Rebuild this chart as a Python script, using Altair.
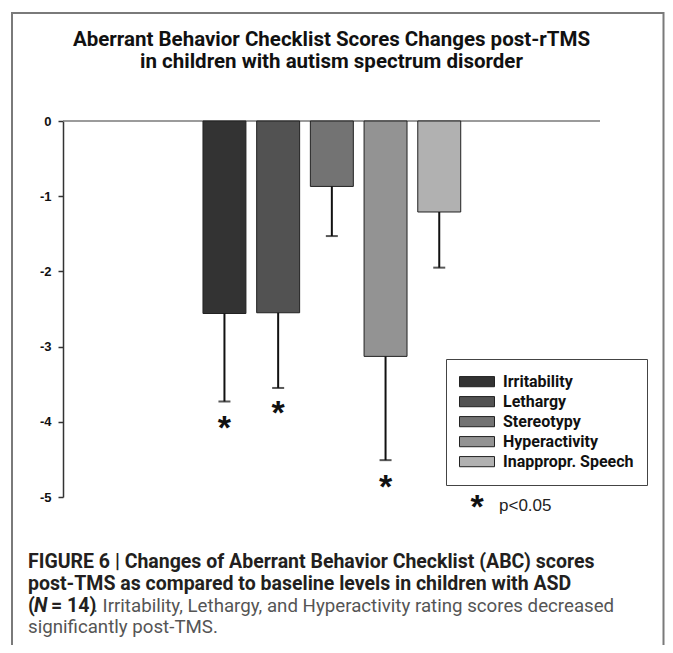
import altair as alt
import pandas as pd

categories = ["Irritability", "Lethargy", "Stereotypy", "Hyperactivity", "Inappropr. Speech"]
means = [-2.56, -2.55, -0.87, -3.13, -1.21]
err_ends = [-3.73, -3.55, -1.53, -4.51, -1.95]
colors = ["#333333", "#525252", "#737373", "#939393", "#b1b1b1"]
sig_categories = ["Irritability", "Lethargy", "Hyperactivity"]
sig_star_pos = [-4.06, -3.85, -4.84]
y_ticks = [0, -1, -2, -3, -4, -5]

title_lines = ["Aberrant Behavior Checklist Scores Changes post-rTMS",
               "in children with autism spectrum disorder"]
caption_bold = ["FIGURE 6 | Changes of Aberrant Behavior Checklist (ABC) scores",
                "post-TMS as compared to baseline levels in children with ASD"]
caption_rest = [". Irritability, Lethargy, and Hyperactivity rating scores decreased",
                "significantly post-TMS."]

COND = "Roboto, Liberation Sans, sans-serif"
SANS = "Liberation Sans, Arial, sans-serif"

W, H = 537, 376

df = pd.DataFrame({"cat": categories, "mean": means, "err": err_ends})
stars = pd.DataFrame({"cat": sig_categories, "pos": sig_star_pos})

xscale = alt.Scale(domain=categories, range=[134.6, 403.1], paddingInner=0.2, paddingOuter=0.1)
xenc = alt.X("cat:N", sort=categories, scale=xscale, axis=None)
yscale = alt.Scale(domain=[-5, 0], nice=False)

zero_line = alt.Chart(pd.DataFrame({"z": [0]})).mark_rule(color="#7a7a7a", strokeWidth=1.5).encode(
    y=alt.Y("z:Q", scale=yscale), x=alt.value(0), x2=alt.value(W))

bars = alt.Chart(df).mark_bar(stroke="#222222", strokeWidth=1).encode(
    x=xenc,
    y=alt.Y("mean:Q", scale=yscale,
            axis=alt.Axis(values=y_ticks, title=None, grid=False, tickSize=5,
                          labelPadding=7, labelFont=SANS, labelFontSize=13,
                          labelFontWeight="bold", labelColor="#111111",
                          domainColor="#333333", tickColor="#333333",
                          domainWidth=1.5, tickWidth=1.5,
                          labelExpr="'' + datum.value")),
    y2=alt.datum(0),
    fill=alt.Fill("cat:N", sort=categories,
                  scale=alt.Scale(domain=categories, range=colors),
                  legend=alt.Legend(
                      title=None, orient="none", legendX=383, legendY=238,
                      symbolType="M-1,-0.29L1,-0.29L1,0.29L-1,0.29Z",
                      symbolSize=1225, symbolStrokeColor="#222222",
                      symbolStrokeWidth=1, labelFont=COND, labelFontSize=16,
                      labelFontWeight="bold", labelColor="#111111",
                      labelOffset=8, clipHeight=19.3, rowPadding=0, padding=13,
                      strokeColor="#444444")),
)

err_rule = alt.Chart(df).mark_rule(color="#111111", strokeWidth=2).encode(
    x=alt.X("cat:N", sort=categories), y="mean:Q", y2="err:Q")
err_cap = alt.Chart(df).mark_tick(color="#111111", size=12, thickness=2).encode(
    x=alt.X("cat:N", sort=categories), y="err:Q")

star_marks = alt.Chart(stars).mark_text(
    text="*", font=SANS, fontSize=34, fontWeight="bold", color="#111111",
    baseline="middle", dy=3).encode(
    x=alt.X("cat:N", sort=categories), y="pos:Q")

one = pd.DataFrame({"k": [0]})

def txt(s, x, y, size, weight="normal", style="normal", color="#111111", font=COND, align="left"):
    return alt.Chart(one).mark_text(
        text=s, font=font, fontSize=size, fontWeight=weight, fontStyle=style,
        color=color, align=align, baseline="alphabetic").encode(
        x=alt.value(x), y=alt.value(y))

legend_note = [
    alt.Chart(one).mark_text(text="*", font=SANS, fontSize=34, fontWeight="bold",
                             color="#111111", baseline="middle", dy=3).encode(
        x=alt.value(414), y=alt.value(384)),
    txt("p<0.05", 436, 390, 17, font=SANS, color="#222222"),
]

bold_size = 19.5
norm_size = 18.7
cap_dark = "#231f20"
cap_gray = "#555555"
caption = [
    txt(caption_bold[0], -35, 447, bold_size, weight="bold", color=cap_dark),
    txt(caption_bold[1], -35, 469, bold_size, weight="bold", color=cap_dark),
    txt("(", -35, 491, bold_size, weight="bold", color=cap_dark),
    txt("N", -29, 491, bold_size, weight="bold", style="italic", color=cap_dark),
    txt("= 14)", -12, 491, bold_size, weight="bold", color=cap_dark),
    txt(caption_rest[0], 30, 491, norm_size, color=cap_gray),
    txt(caption_rest[1], -35, 512, norm_size, color=cap_gray),
]

frame = alt.Chart(one).mark_rect(fillOpacity=0, stroke="#7a7a7a", strokeWidth=2).encode(
    x=alt.value(-51), x2=alt.value(600.5), y=alt.value(-108), y2=alt.value(560))

chart = alt.layer(frame, zero_line, bars, err_rule, err_cap, star_marks, *legend_note, *caption).properties(
    width=W, height=H,
    title=alt.TitleParams(title_lines, anchor="middle", frame="group", font=COND,
                          fontSize=20.5, fontWeight="bold", color="#111111",
                          lineHeight=22, offset=0, dy=80, baseline="bottom"),
    autosize=alt.AutoSizeParams(type="none"),
    padding={"left": 55, "top": 113, "right": 65, "bottom": 148},
).configure_view(stroke=None).configure_legend(strokeWidth=1)

chart.save("out.html", embed_options={"renderer": "svg", "actions": False})
